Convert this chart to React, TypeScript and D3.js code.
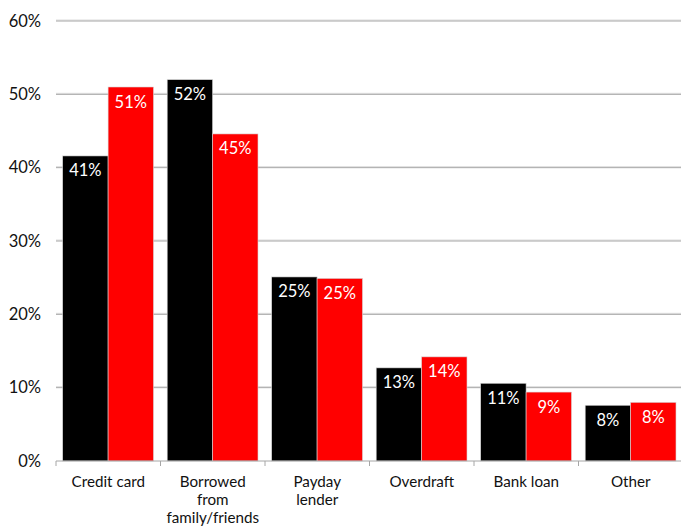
import React from "react";
import * as d3 from "d3";

const categories: string[][] = [
  ["Credit card"],
  ["Borrowed", "from", "family/friends"],
  ["Payday", "lender"],
  ["Overdraft"],
  ["Bank loan"],
  ["Other"],
];
const seriesA: number[] = [41.6, 52.0, 25.1, 12.7, 10.6, 7.6];
const seriesB: number[] = [51.0, 44.6, 24.9, 14.2, 9.4, 8.0];
const labelsA: string[] = ["41%", "52%", "25%", "13%", "11%", "8%"];
const labelsB: string[] = ["51%", "45%", "25%", "14%", "9%", "8%"];
const yTicks: number[] = [0, 10, 20, 30, 40, 50, 60];

const W = 681;
const H = 527;
const FONT = "Lato, 'Open Sans', sans-serif";
const FS = 16.5;
const CAT_FS = 15.2;

export default function App() {
  const keys = categories.map((c) => c.join(" "));
  const x = d3.scaleBand<string>().domain(keys).range([56, 683]).padding(0);
  const bw = x.bandwidth();
  const sub = d3
    .scaleBand<string>()
    .domain(["a", "b"])
    .range([bw * 0.064, bw * 0.933])
    .padding(0);
  const y = d3.scaleLinear().domain([0, 60]).range([461, 21]);

  const series = [
    { key: "a", values: seriesA, labels: labelsA, color: "#000000" },
    { key: "b", values: seriesB, labels: labelsB, color: "#ff0000" },
  ];

  const tickXs = keys.map((k) => x(k) as number).concat([(x(keys[keys.length - 1]) as number) + bw]);

  return (
    <svg
      width={W}
      height={H}
      style={{ position: "absolute", left: 0, top: 0, background: "#fff" }}
      fontFamily={FONT}
    >
      {yTicks.map((t) => (
        <g key={t}>
          {t !== 0 && (
            <>
              <line x1={56} x2={W} y1={y(t) - 1} y2={y(t) - 1} stroke="#dcdcdc" strokeWidth={1} />
              <line x1={56} x2={W} y1={y(t)} y2={y(t)} stroke="#a6a6a6" strokeWidth={1} />
            </>
          )}
          <text x={41} y={y(t)} dy="0.35em" textAnchor="end" fontSize={FS} fill="#111">
            {t}%
          </text>
        </g>
      ))}

      {series.map((s) =>
        keys.map((k, i) => {
          const x0 = (x(k) as number) + (sub(s.key) as number);
          const w = sub.bandwidth();
          const y0 = y(s.values[i]);
          return (
            <g key={s.key + k}>
              <rect x={x0} y={y0} width={w} height={y(0) - y0} fill={s.color} stroke="#d8d8d8" strokeWidth={0.6} />
              <text x={x0 + w / 2} y={y0 + 20.5} textAnchor="middle" fontSize={FS} fill="#ffffff">
                {s.labels[i]}
              </text>
            </g>
          );
        })
      )}

      <line x1={56} x2={W} y1={y(0)} y2={y(0)} stroke="#a6a6a6" strokeWidth={1} />
      {tickXs.map((tx, i) => (
        <line key={i} x1={tx} x2={tx} y1={y(0)} y2={y(0) + 5} stroke="#a6a6a6" strokeWidth={1} />
      ))}

      {categories.map((lines, i) =>
        lines.map((ln, j) => (
          <text
            key={i + "-" + j}
            x={(x(keys[i]) as number) + bw / 2}
            y={486.5 + j * 18.3}
            textAnchor="middle"
            fontSize={CAT_FS}
            fill="#111"
          >
            {ln}
          </text>
        ))
      )}
    </svg>
  );
}
